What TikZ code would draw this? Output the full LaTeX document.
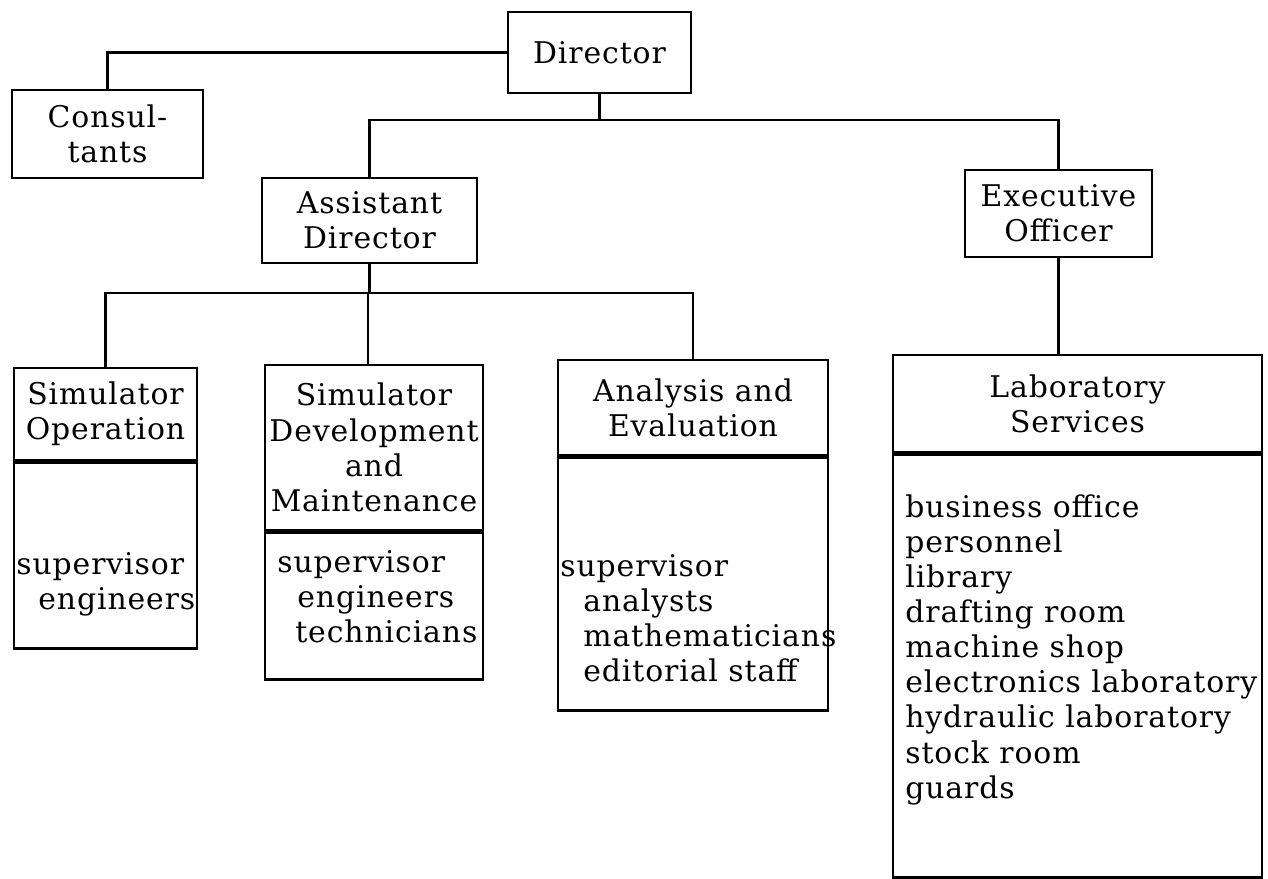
\documentclass[tikz,border=0pt]{standalone}
\usepackage{fontspec}
\setmainfont{DejaVu Serif}[LetterSpace=3]
\usepackage{tikz}
\usetikzlibrary{positioning}

\tikzset{
  unit/.style={draw, line width=1.4pt, align=center, inner sep=2pt},
  staff/.style={align=left, anchor=north west, inner sep=0pt},
  link/.style={line width=1.3pt},
}

\begin{document}
\begin{tikzpicture}[x=0.02cm, y=-0.02cm, font=\fontsize{17}{20}\selectfont]
		\useasboundingbox (0,0) rectangle (1268,879);
		\node[unit, minimum width=3.66cm, minimum height=1.62cm] (dir) at (599.5,52.5) {Director};
		\node[unit, minimum width=3.82cm, minimum height=1.76cm] (cons) at (107.5,134) {Consul-\\tants};
		\node[unit, minimum width=4.3cm, minimum height=1.7cm] (asst) at (369.5,220.5) {Assistant\\Director};
		\node[unit, minimum width=3.74cm, minimum height=1.74cm] (exec) at (1058.5,213.5) {Executive\\Officer};
		\node[unit, minimum width=3.66cm, minimum height=1.84cm] (simop) at (105.5,414) {Simulator\\Operation};
		\node[unit, minimum width=3.66cm, minimum height=3.72cm, below=0pt of simop] (simopb) {};
		\node[unit, minimum width=4.36cm, minimum height=3.3cm] (simdev) at (374,447.5) {Simulator\\Development\\and\\Maintenance};
		\node[unit, minimum width=4.36cm, minimum height=2.94cm, below=0pt of simdev] (simdevb) {};
		\node[unit, minimum width=5.4cm, minimum height=1.9cm] (anal) at (693,407.5) {Analysis and\\Evaluation};
		\node[unit, minimum width=5.4cm, minimum height=5.06cm, below=0pt of anal] (analb) {};
		\node[unit, minimum width=7.38cm, minimum height=1.94cm] (lab) at (1077.5,403.5) {Laboratory\\Services};
		\node[unit, minimum width=7.38cm, minimum height=8.46cm, below=0pt of lab] (labb) {};
		\node[staff] (simopt) at (16,552) {supervisor\\\hspace*{0.44cm}engineers};
		\node[staff] (simdevt) at (277,550) {supervisor\\\hspace*{0.4cm}engineers\\\hspace*{0.36cm}technicians};
		\node[staff] (analt) at (560,554) {supervisor\\\hspace*{0.46cm}analysts\\\hspace*{0.46cm}mathematicians\\\hspace*{0.46cm}editorial staff};
		\node[staff] (labt) at (905,494) {business office\\personnel\\library\\drafting room\\machine shop\\electronics laboratory\\hydraulic laboratory\\stock room\\guards};
		\coordinate (j1) at (602,120);
		\coordinate (j2) at (368,293);
		\draw[link] (dir.west) -| (cons.north);
		\draw[link] (dir.south) -- (dir.south |- j1);
		\draw[link] (asst.north) |- (j1) -| (exec.north);
		\draw[link] (asst.south) -- (asst.south |- j2);
		\draw[link] (simop.north) |- (j2) -| (anal.north);
		\draw[link] (j2) -- (j2 |- simdev.north);
		\draw[link] (exec.south) -- (exec.south |- lab.north);
	\end{tikzpicture}
\end{document}
